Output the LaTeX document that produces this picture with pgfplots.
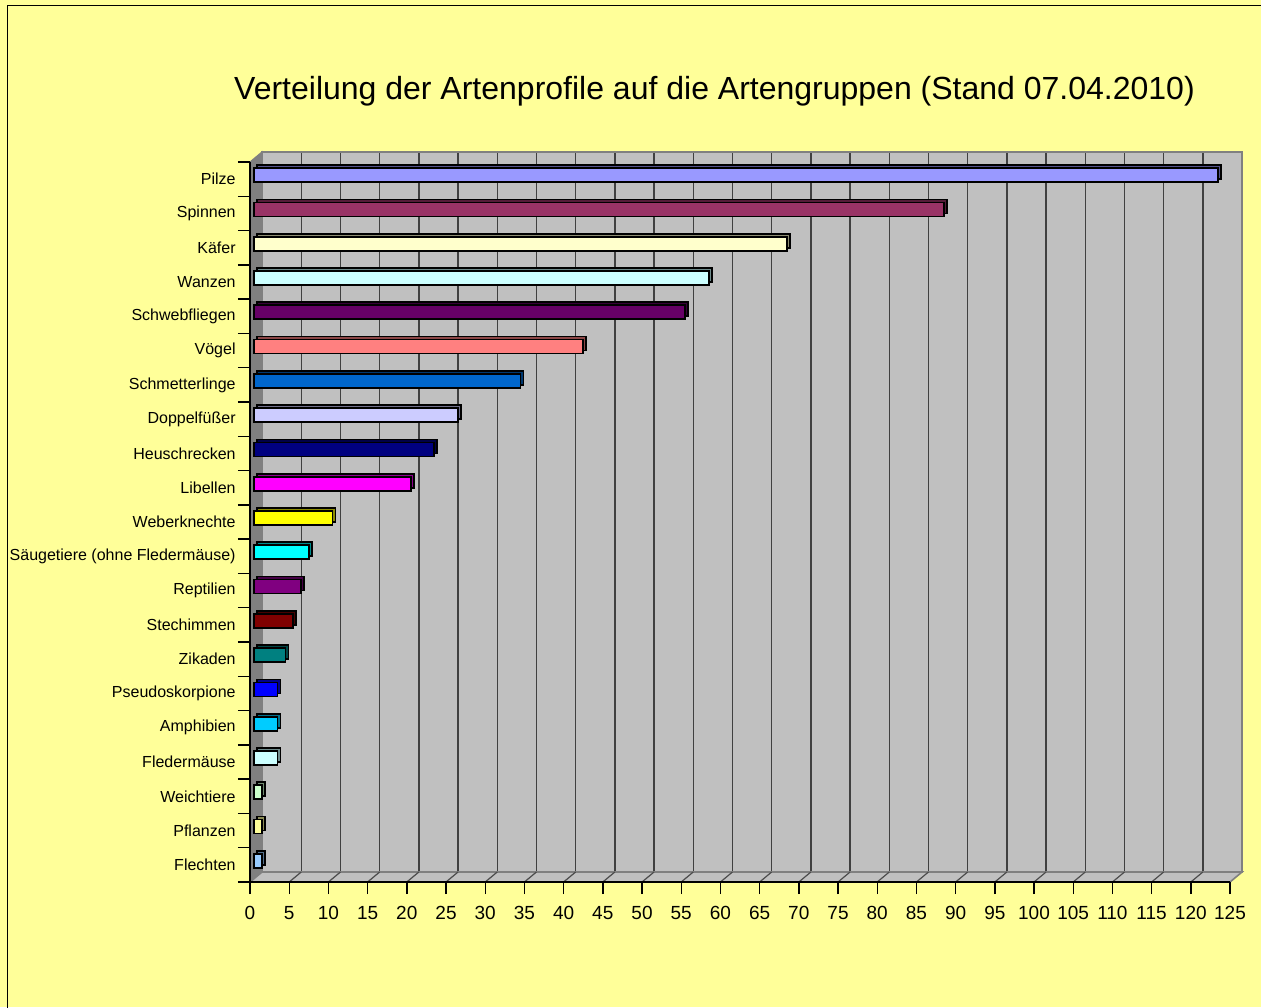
\documentclass[border=0pt]{standalone}
\usepackage{fontspec}
\setmainfont{Liberation Sans}
\usepackage{pgfplots}
\pgfplotsset{compat=1.18}
\definecolor{bgyellow}{HTML}{FFFF99}
\definecolor{wallgray}{HTML}{C0C0C0}
\definecolor{darkwall}{HTML}{808080}
\definecolor{cA}{HTML}{9999FF}
\definecolor{cB}{HTML}{993366}
\definecolor{cC}{HTML}{FFFFCC}
\definecolor{cD}{HTML}{CCFFFF}
\definecolor{cE}{HTML}{660066}
\definecolor{cF}{HTML}{FF8080}
\definecolor{cG}{HTML}{0066CC}
\definecolor{cH}{HTML}{CCCCFF}
\definecolor{cI}{HTML}{000080}
\definecolor{cJ}{HTML}{FF00FF}
\definecolor{cK}{HTML}{FFFF00}
\definecolor{cL}{HTML}{00FFFF}
\definecolor{cM}{HTML}{800080}
\definecolor{cN}{HTML}{800000}
\definecolor{cO}{HTML}{008080}
\definecolor{cP}{HTML}{0000FF}
\definecolor{cQ}{HTML}{00CCFF}
\definecolor{cR}{HTML}{CCFFFF}
\definecolor{cS}{HTML}{CCFFCC}
\definecolor{cT}{HTML}{FFFF99}
\definecolor{cU}{HTML}{99CCFF}

\pgfplotsset{
  base/.style={scale only axis, width=490pt, height=360pt,
    xmin=0, xmax=125, ymin=-0.5, ymax=20.5, y dir=reverse,
    anchor=south west, clip=false},
  hidden/.style={base, axis lines=none, xtick=\empty, ytick=\empty},
  onebar/.style={xbar, bar shift=0pt, bar width=7pt, draw=black, line width=0.85pt},
}

\newcommand\allbars[1]{%
\addplot[onebar, fill=cA#1] coordinates {(123,0)};
\addplot[onebar, fill=cB#1] coordinates {(88,1)};
\addplot[onebar, fill=cC#1] coordinates {(68,2)};
\addplot[onebar, fill=cD#1] coordinates {(58,3)};
\addplot[onebar, fill=cE#1] coordinates {(55,4)};
\addplot[onebar, fill=cF#1] coordinates {(42,5)};
\addplot[onebar, fill=cG#1] coordinates {(34,6)};
\addplot[onebar, fill=cH#1] coordinates {(26,7)};
\addplot[onebar, fill=cI#1] coordinates {(23,8)};
\addplot[onebar, fill=cJ#1] coordinates {(20,9)};
\addplot[onebar, fill=cK#1] coordinates {(10,10)};
\addplot[onebar, fill=cL#1] coordinates {(7,11)};
\addplot[onebar, fill=cM#1] coordinates {(6,12)};
\addplot[onebar, fill=cN#1] coordinates {(5,13)};
\addplot[onebar, fill=cO#1] coordinates {(4,14)};
\addplot[onebar, fill=cP#1] coordinates {(3,15)};
\addplot[onebar, fill=cQ#1] coordinates {(3,16)};
\addplot[onebar, fill=cR#1] coordinates {(3,17)};
\addplot[onebar, fill=cS#1] coordinates {(1,18)};
\addplot[onebar, fill=cT#1] coordinates {(1,19)};
\addplot[onebar, fill=cU#1] coordinates {(1,20)};
}

\begin{document}
\begin{tikzpicture}
\begin{scope}[x=0.5pt,y=-0.5pt]
\clip (0,0) rectangle (1261,1007);
\fill[bgyellow] (0,0) rectangle (1261,1007);
\draw[black, line width=0.8pt] (7.5,5.5) rectangle (1300,1100);
\node[font=\fontsize{16}{19}\selectfont] at (714.5,91) {Verteilung der Artenprofile auf die Artengruppen (Stand 07.04.2010)};
\end{scope}

% back wall
\begin{axis}[base, at={(131pt,-436pt)},
  axis background/.style={fill=wallgray},
  axis line style={draw=darkwall, line width=0.8pt},
  xtick={0,5,...,125}, xticklabels=\empty, ytick=\empty,
  major tick length=0pt,
  xmajorgrids, major grid style={black!75, line width=0.7pt}]
\addplot[draw=none] coordinates {(0,0)};
\end{axis}

\begin{scope}[x=0.5pt,y=-0.5pt]
% left wall
\filldraw[fill=darkwall, draw=darkwall, line width=0.6pt] (250,162)--(262,152)--(262,872)--(250,882)--cycle;
% floor
\filldraw[fill=wallgray, draw=darkwall, line width=0.8pt] (250,882)--(262,872)--(1242,872)--(1230,882)--cycle;
\foreach \k in {1,...,24} {
  \draw[black!70, line width=0.6pt] (262+39.2*\k,872)--(250+39.2*\k,882);
}
\end{scope}

% bar depth faces
\begin{axis}[hidden, at={(128.5pt,-437.5pt)}]
\allbars{!55!black}
\end{axis}

% bar front faces
\begin{axis}[hidden, at={(127pt,-439pt)}]
\allbars{}
\end{axis}

% front axis with ticks and labels
\begin{axis}[base, at={(125pt,-441pt)},
  axis x line=bottom, axis y line=left,
  axis line style={black, line width=0.8pt, -},
  tick align=outside, major tick length=6pt,
  tick style={black, line width=0.7pt},
  xtick={0,5,...,125},
  /pgf/number format/assume math mode=true,
  xticklabel style={font=\fontsize{9.5}{11}\selectfont, yshift=-2.5pt},
  ytick={-0.5,0.5,...,20.5}, yticklabels={},
  extra y ticks={0,1,...,20},
  extra y tick labels={Pilze,Spinnen,Käfer,Wanzen,Schwebfliegen,Vögel,Schmetterlinge,Doppelfüßer,Heuschrecken,Libellen,Weberknechte,{Säugetiere (ohne Fledermäuse)},Reptilien,Stechimmen,Zikaden,Pseudoskorpione,Amphibien,Fledermäuse,Weichtiere,Pflanzen,Flechten},
  extra y tick style={major tick length=0pt, tick style={draw=none},
    yticklabel style={font=\fontsize{8}{9.6}\selectfont, anchor=east, inner sep=0pt, xshift=-7pt}},
]
\addplot[draw=none] coordinates {(0,0)};
\end{axis}
\end{tikzpicture}
\end{document}
